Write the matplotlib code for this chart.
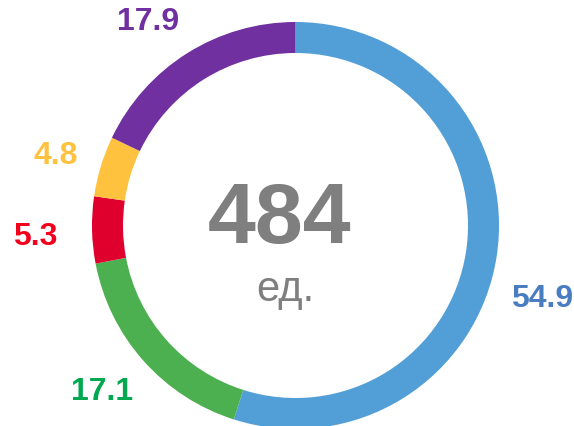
import numpy as np
import matplotlib.pyplot as plt

plt.rcParams['font.family'] = ['Liberation Sans', 'DejaVu Sans']

# data
values = [54.9, 17.1, 5.3, 4.8, 17.9]
labels = ["54.9", "17.1", "5.3", "4.8", "17.9"]
wedge_colors = ["#529FD7", "#4CAF50", "#E0002D", "#FFC23F", "#7030A0"]
label_colors = ["#4A7DBF", "#00A84F", "#F5001C", "#FFC23F", "#7030A0"]
total = "484"
unit = "ед."

# layout (pixels)
W, H = 574, 427
cx, cy = 295.5, 200.5
R = 203.5
ring = 31
label_dist = [1.26, 1.25, 1.28, 1.23, 1.24]
angle_nudge = [-7.5, -1.0, 1.0, 0.5, 3.5]

fig = plt.figure(figsize=(W / 100, H / 100), dpi=100)
ax = fig.add_axes([0, 0, 1, 1])

wedges, _ = ax.pie(values, colors=wedge_colors, startangle=90, counterclock=False,
                   center=(cx, cy), radius=R,
                   wedgeprops=dict(width=ring, edgecolor="none"))

for w, lab, col, nud, d in zip(wedges, labels, label_colors, angle_nudge, label_dist):
    ang = np.deg2rad((w.theta1 + w.theta2) / 2 + nud)
    x = cx + d * R * np.cos(ang)
    y = cy + d * R * np.sin(ang)
    ax.text(x, y, lab, color=col, fontsize=23, fontweight="bold",
            ha="center", va="center")

ax.text(cx - 15.5, cy - 16.5, total, color="#7F7F7F", fontsize=62,
        fontweight="bold", ha="center", va="baseline")
ax.text(cx - 10.5, cy - 74.5, unit, color="#7F7F7F", fontsize=30,
        ha="center", va="baseline")

ax.set_xlim(0, W)
ax.set_ylim(0, H)
ax.set_aspect("equal")
ax.axis("off")

fig.savefig("out.png", dpi=100)
